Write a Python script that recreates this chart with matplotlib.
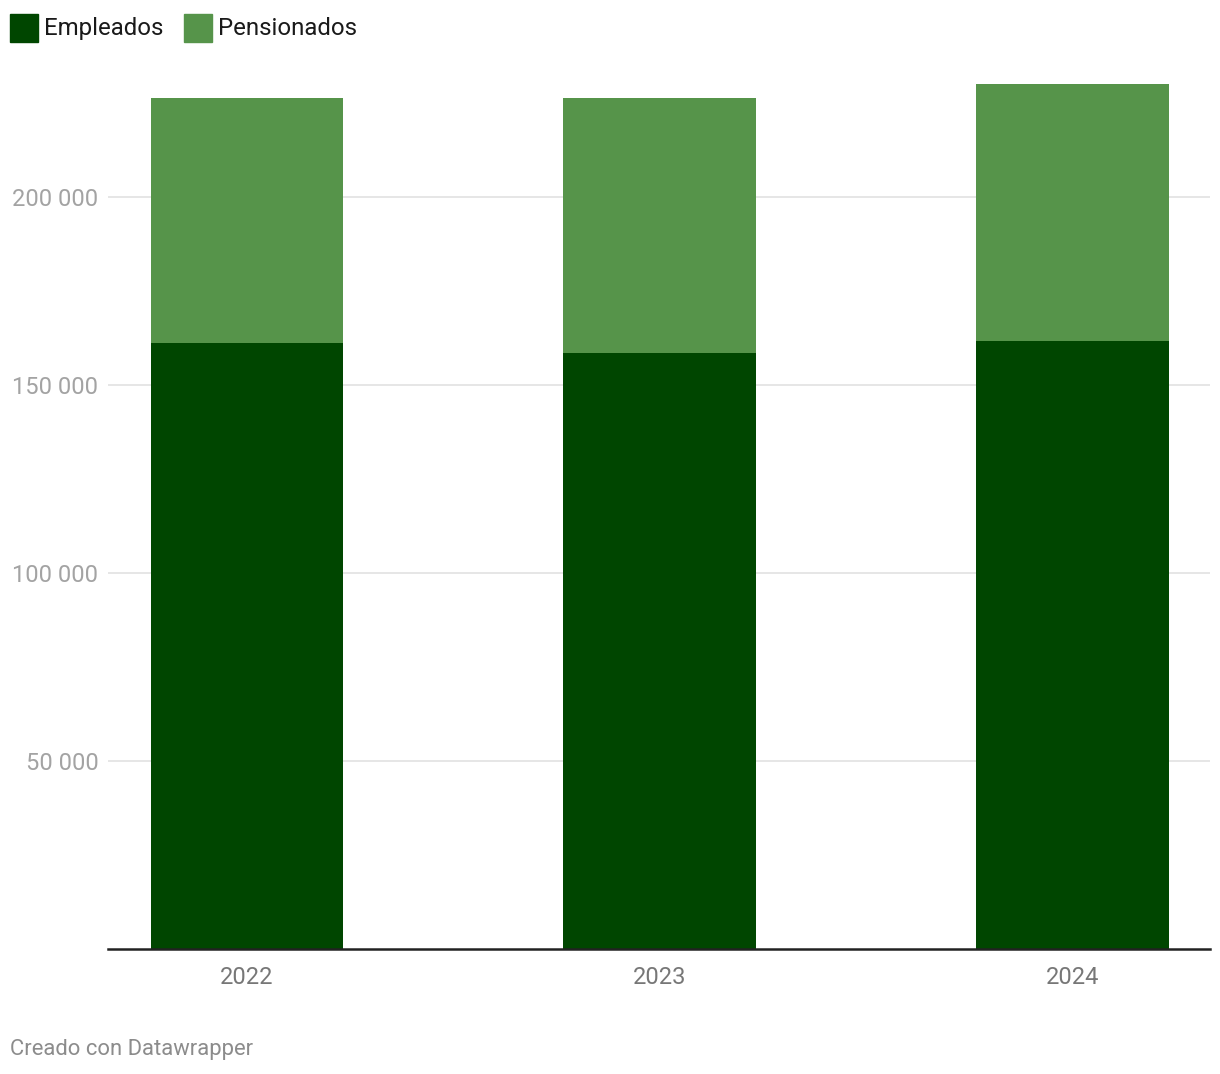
import matplotlib.pyplot as plt
from matplotlib.patches import Rectangle
from matplotlib.ticker import FuncFormatter

plt.rcParams['font.family'] = ['Roboto', 'DejaVu Sans']

# Datos
years = ['2022', '2023', '2024']
empleados = [161200, 158500, 161700]
pensionados = [65100, 67800, 68300]
series_names = ['Empleados', 'Pensionados']
colors = ['#004600', '#56944a']
yticks = [50000, 100000, 150000, 200000]

W, H = 1220, 1074
fig = plt.figure(figsize=(W / 100, H / 100), dpi=100)
ax = fig.add_axes([108 / W, (H - 949) / H, (1210 - 108) / W, (949 - 60) / H])

x = list(range(len(years)))
ax.bar(x, empleados, width=0.467, color=colors[0], zorder=2)
ax.bar(x, pensionados, width=0.467, bottom=empleados, color=colors[1], zorder=2)

ax.set_xlim(-0.337, 2.333)
ax.set_ylim(0, (949 - 60) / 3.76 * 1000)

ax.set_yticks(yticks)
ax.yaxis.set_major_formatter(FuncFormatter(lambda v, p: f'{int(v):,}'.replace(',', ' ')))
ax.grid(axis='y', color='#e2e2e2', linewidth=1.2, zorder=0)
ax.tick_params(axis='y', length=0, pad=7, labelsize=17, labelcolor='#a3a3a3')
ax.set_xticks(x)
ax.set_xticklabels(years)
ax.tick_params(axis='x', length=0, pad=12.5, labelsize=17, labelcolor='#777777')

for s in ['top', 'right', 'left']:
    ax.spines[s].set_visible(False)
ax.spines['bottom'].set_color('#222222')
ax.spines['bottom'].set_linewidth(1.8)
ax.spines['bottom'].set_zorder(3)

# Leyenda
lx = [10, 184]
for i, name in enumerate(series_names):
    fig.patches.append(Rectangle((lx[i] / W, 1 - 42 / H), 28 / W, 28 / H,
                                 transform=fig.transFigure, color=colors[i]))
    fig.text((lx[i] + 34) / W, 1 - 28.5 / H, name, fontsize=17.3, color='#1a1a1a',
             va='center', ha='left')

fig.text(10 / W, 1 - 1050 / H, 'Creado con Datawrapper', fontsize=15.8,
         color='#8c8c8c', va='center', ha='left')

fig.savefig('out.png', dpi=100)
